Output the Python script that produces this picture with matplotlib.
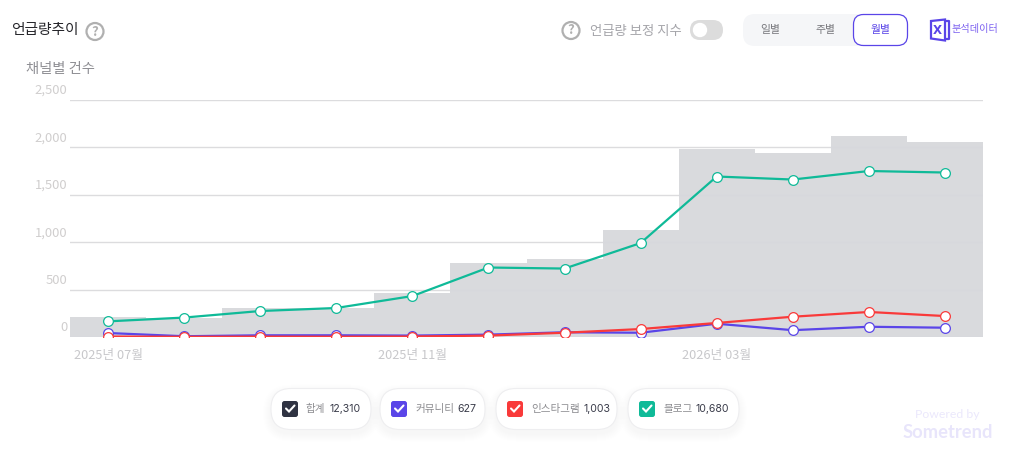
import numpy as np
from matplotlib import pyplot as plt
from matplotlib.patches import Circle, FancyBboxPatch, Polygon
from matplotlib.transforms import ScaledTranslation

plt.rcParams['font.family'] = ['Noto Sans CJK KR', 'DejaVu Sans']

#values
months = ['2025년 07월', '2025년 08월', '2025년 09월', '2025년 10월', '2025년 11월', '2025년 12월',
          '2026년 01월', '2026년 02월', '2026년 03월', '2026년 04월', '2026년 05월', '2026년 06월']
total = [211, 205, 306, 306, 464, 780, 822, 1128, 1983, 1941, 2125, 2057]
community = [42, 8, 18, 18, 15, 25, 50, 45, 140, 72, 108, 98]
instagram = [5, 2, 4, 3, 5, 15, 45, 84, 148, 214, 264, 221]
blog = [165, 205, 274, 306, 432, 733, 722, 991, 1693, 1661, 1751, 1735]
y_ticks = [0, 500, 1000, 1500, 2000, 2500]
x_tick_idx = [0, 4, 8]

legend_names = ['합계', '커뮤니티', '인스타그램', '블로그']
legend_values = ['12,310', '627', '1,003', '10,680']

DARK = '#2f3342'
PURPLE = '#5a45e8'
RED = '#f93a3a'
GREEN = '#0fba98'

W, H = 1009, 468


def rounded(ui, x, y, w, h, r, **kw):
    box = FancyBboxPatch((x + r, y + r), w - 2 * r, h - 2 * r,
                         boxstyle='round,pad=%f,rounding_size=%f' % (r, r), **kw)
    ui.add_patch(box)
    return box


def soft_shadow(ui, x, y, w, h, r, spread=10, dy=4, alpha=0.002):
    #stack of faint boxes, looks like a css box-shadow
    for s in range(spread, 0, -1):
        rounded(ui, x - s, y - s + dy, w + 2 * s, h + 2 * s, r + s, fc='#5a5f80', ec='none', alpha=alpha)


def help_icon(ui, cx, cy):
    ui.add_patch(Circle((cx, cy), 8.5, fc='white', ec='#b0b0b0', lw=1.6))
    ui.text(cx, cy, '?', color='#b0b0b0', fontsize=9.5, fontweight='bold', ha='center', va='center')


def draw_ui(ui):
    ui.text(11, 30, '언급량추이', color='#26262b', fontsize=10.6, fontweight='medium', ha='left', va='center')
    help_icon(ui, 95, 31.5)
    ui.text(26, 68.5, '채널별 건수', color='#8f8f94', fontsize=10.3, fontweight='medium', ha='left', va='center')

    help_icon(ui, 571, 30.5)
    ui.text(590, 30.5, '언급량 보정 지수', color='#a5a5aa', fontsize=9.6, ha='left', va='center')
    rounded(ui, 690, 20, 33, 20, 10, fc='#dcdcdc', ec='none')
    ui.add_patch(Circle((700, 30), 7.2, fc='white', ec='none'))

    soft_shadow(ui, 853, 14, 55, 31, 12, spread=22, dy=14, alpha=0.0012)
    rounded(ui, 743, 14, 165, 32, 12, fc='#f5f6f8', ec='none')
    ui.text(770.5, 30.5, '일별', color='#77777c', fontsize=7.8, ha='center', va='center')
    ui.text(825.5, 30.5, '주별', color='#77777c', fontsize=7.8, ha='center', va='center')
    rounded(ui, 853.5, 14.5, 54, 31, 10, fc='white', ec=PURPLE, lw=0.9)
    ui.text(880.5, 30.5, '월별', color=PURPLE, fontsize=7.8, ha='center', va='center')

    #excel style icon
    ui.add_patch(Polygon([(931, 21), (945, 19.5), (945, 40.5), (931, 38.5)], fc='white', ec=PURPLE, lw=1.6))
    ui.plot([945, 949, 949, 945], [21, 21, 39, 39], color=PURPLE, lw=1.6, solid_capstyle='butt')
    ui.text(937.5, 30, 'X', color=PURPLE, fontsize=8.5, fontweight='bold', ha='center', va='center',
            family='DejaVu Sans')
    ui.text(952, 29, '분석데이터', color='#7d62f0', fontsize=7.3, ha='left', va='center')

    #legend pills: x, width, check colour
    pills = [(271, 100, DARK), (380, 105, PURPLE), (496, 121, RED), (628, 111, GREEN)]
    for (x, w, col), name, val in zip(pills, legend_names, legend_values):
        soft_shadow(ui, x, 388.5, w, 41, 20, spread=8, dy=4, alpha=0.002)
        rounded(ui, x, 388.5, w, 41, 20, fc='white', ec='#eeeef0', lw=0.8)
        rounded(ui, x + 11, 401, 16, 16, 2.5, fc=col, ec='none')
        ui.plot([x + 15, x + 18, x + 23.5], [408.5, 411.5, 405.5], color='white', lw=1.5,
                solid_capstyle='round', solid_joinstyle='miter')
        name_t = ui.text(x + 35, 409, name, color='#8c8c90', fontsize=7.6, ha='left', va='center')
        ui.figure.canvas.draw()
        box = name_t.get_window_extent()
        ui.text(x + 35 + box.width + 3.5, 408.5, val, color='#3a3c4a', fontsize=7.6, ha='left', va='center',
                family='Inter')

    ui.text(947.5, 414, 'Powered by', color='#ebe8fc', fontsize=8.8, ha='center', va='center', family='Lato')
    ui.text(947.5, 432.5, 'Sometrend', color='#e8e5fb', fontsize=13.2, fontweight='bold', ha='center',
            va='center', family='Lato')


def main():
    fig = plt.figure(figsize=(W / 100, H / 100), dpi=100, facecolor='white')

    #chart axes placed by pixel, plot area 70..983 x 100..337
    ax = fig.add_axes([70 / W, 1 - 337 / H, (983 - 70) / W, (337 - 100) / H])
    x = np.arange(len(months))
    ax.set_xlim(-0.5, 11.5)
    ax.set_ylim(0, 2500)
    ax.yaxis.grid(True, color='#dcdcde', lw=1)
    ax.set_axisbelow(True)
    ax.bar(x, total, width=1.0, color='#d7d8dc', alpha=0.95, lw=0, zorder=2)

    #clipped at the baseline like the original
    for values, col, z in [(community, PURPLE, 3), (instagram, RED, 4), (blog, GREEN, 5)]:
        ax.plot(x, values, color=col, lw=1.6, marker='o', ms=7, mfc='white', mec=col, mew=0.9, zorder=z)

    for s in ax.spines.values():
        s.set_visible(False)
    ax.set_yticks(y_ticks)
    ax.set_yticklabels(['{:,}'.format(v) for v in y_ticks], color='#d0cece', fontsize=9.4)
    ax.set_xticks([x[i] for i in x_tick_idx])
    ax.set_xticklabels([months[i] for i in x_tick_idx], color='#c8c8cb', fontsize=9.2)
    ax.tick_params(length=0)
    ax.tick_params(axis='y', pad=2)
    ax.tick_params(axis='x', pad=9)
    #y labels sit above their grid line
    shift = ScaledTranslation(0, 11 / 100, fig.dpi_scale_trans)
    for lab in ax.get_yticklabels():
        lab.set_transform(lab.get_transform() + shift)

    #overlay for the page widgets, in image pixels
    ui = fig.add_axes([0, 0, 1, 1], zorder=-1)
    ui.set_xlim(0, W)
    ui.set_ylim(H, 0)
    ui.axis('off')
    ax.patch.set_alpha(0)
    draw_ui(ui)

    fig.savefig('out.png', dpi=100, facecolor='white')


if __name__ == "__main__":
    main()
